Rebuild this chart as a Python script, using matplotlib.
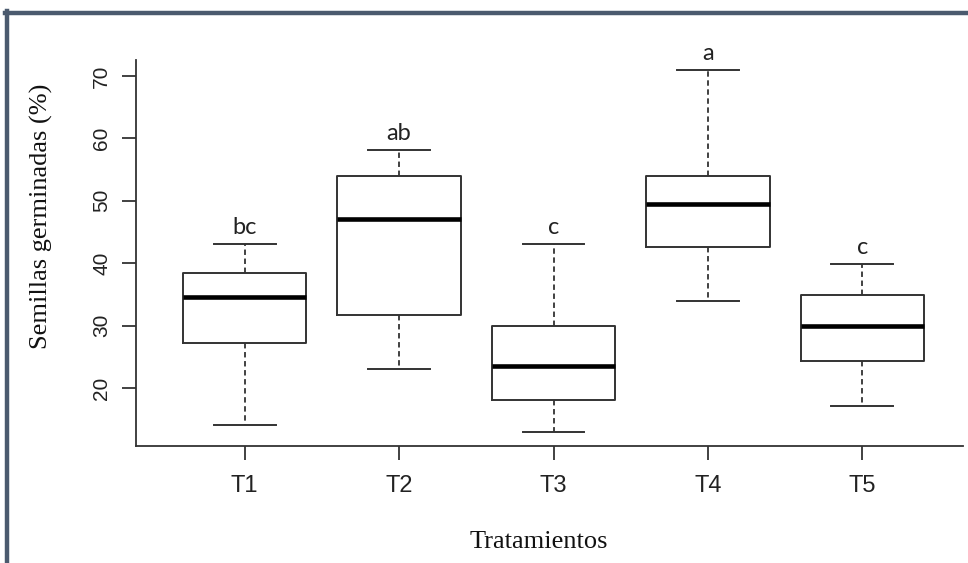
import matplotlib.pyplot as plt
from matplotlib.lines import Line2D

# values (boxplot summary per treatment)
treatments = ['T1', 'T2', 'T3', 'T4', 'T5']
whisker_low = [14.0, 23.0, 13.0, 34.0, 17.1]
q1 = [27.2, 31.7, 18.1, 42.6, 24.4]
median = [34.5, 47.1, 23.5, 49.5, 29.9]
q3 = [38.5, 54.0, 30.0, 54.0, 34.9]
whisker_high = [43.0, 58.1, 43.0, 70.9, 39.9]
letters = ['bc', 'ab', 'c', 'a', 'c']

stats = []
for i in range(len(treatments)):
    stats.append({'label': treatments[i], 'whislo': whisker_low[i], 'q1': q1[i],
                  'med': median[i], 'q3': q3[i], 'whishi': whisker_high[i], 'fliers': []})

edge = '#333333'
fig = plt.figure(figsize=(9.68, 5.63), dpi=100)
ax = fig.add_axes([136/968, 1 - 446/563, (963 - 136)/968, (446 - 60)/563])

ax.bxp(stats, positions=range(1, 6), widths=0.8, showfliers=False,
       boxprops=dict(color=edge, linewidth=1.4),
       medianprops=dict(color='black', linewidth=3.3),
       whiskerprops=dict(color=edge, linewidth=1.3, linestyle=(0, (3, 2))),
       capprops=dict(color=edge, linewidth=1.4))

ax.set_xlim(0.296, 5.652)
ax.set_ylim(10.7, 72.56)
ax.set_yticks([20, 30, 40, 50, 60, 70])
ax.set_xticks(range(1, 6))
ax.set_xticklabels(treatments)

# R style L-shaped frame
ax.spines['top'].set_visible(False)
ax.spines['right'].set_visible(False)
for s in ['left', 'bottom']:
    ax.spines[s].set_color(edge)
    ax.spines[s].set_linewidth(1.3)
ax.tick_params(axis='both', length=10, width=1.3, color=edge, labelcolor='#222222')
ax.tick_params(axis='x', pad=11, labelsize=17)
ax.tick_params(axis='y', pad=8, labelsize=15)
for lab in ax.get_yticklabels():
    lab.set_rotation(90)
    lab.set_va('center')
for lab in ax.get_xticklabels() + ax.get_yticklabels():
    lab.set_family('Liberation Sans')

# significance letters above the upper whisker
for i in range(len(treatments)):
    ax.annotate(letters[i], (i + 1, whisker_high[i]), xytext=(0, 12), textcoords='offset points',
                ha='center', va='center', fontsize=17, family='Lato', color='#222222')

fig.text(539/968, 1 - 542/563, 'Tratamientos', ha='center', va='center',
         fontsize=19, family='Liberation Serif', color='#111111')
fig.text(41/968, 1 - 216/563, 'Semillas germinadas (%)', ha='center', va='center',
         rotation=90, fontsize=19, family='Liberation Serif', color='#111111')

# dark border on top and left of the image
border = '#4b5a6e'
fig.add_artist(Line2D([5/968, 1], [1 - 13/563, 1 - 13/563], color=border, linewidth=3.2,
                      transform=fig.transFigure))
fig.add_artist(Line2D([6.7/968, 6.7/968], [0, 1 - 11/563], color=border, linewidth=3.2,
                      transform=fig.transFigure))

plt.savefig('out.png', dpi=100)
